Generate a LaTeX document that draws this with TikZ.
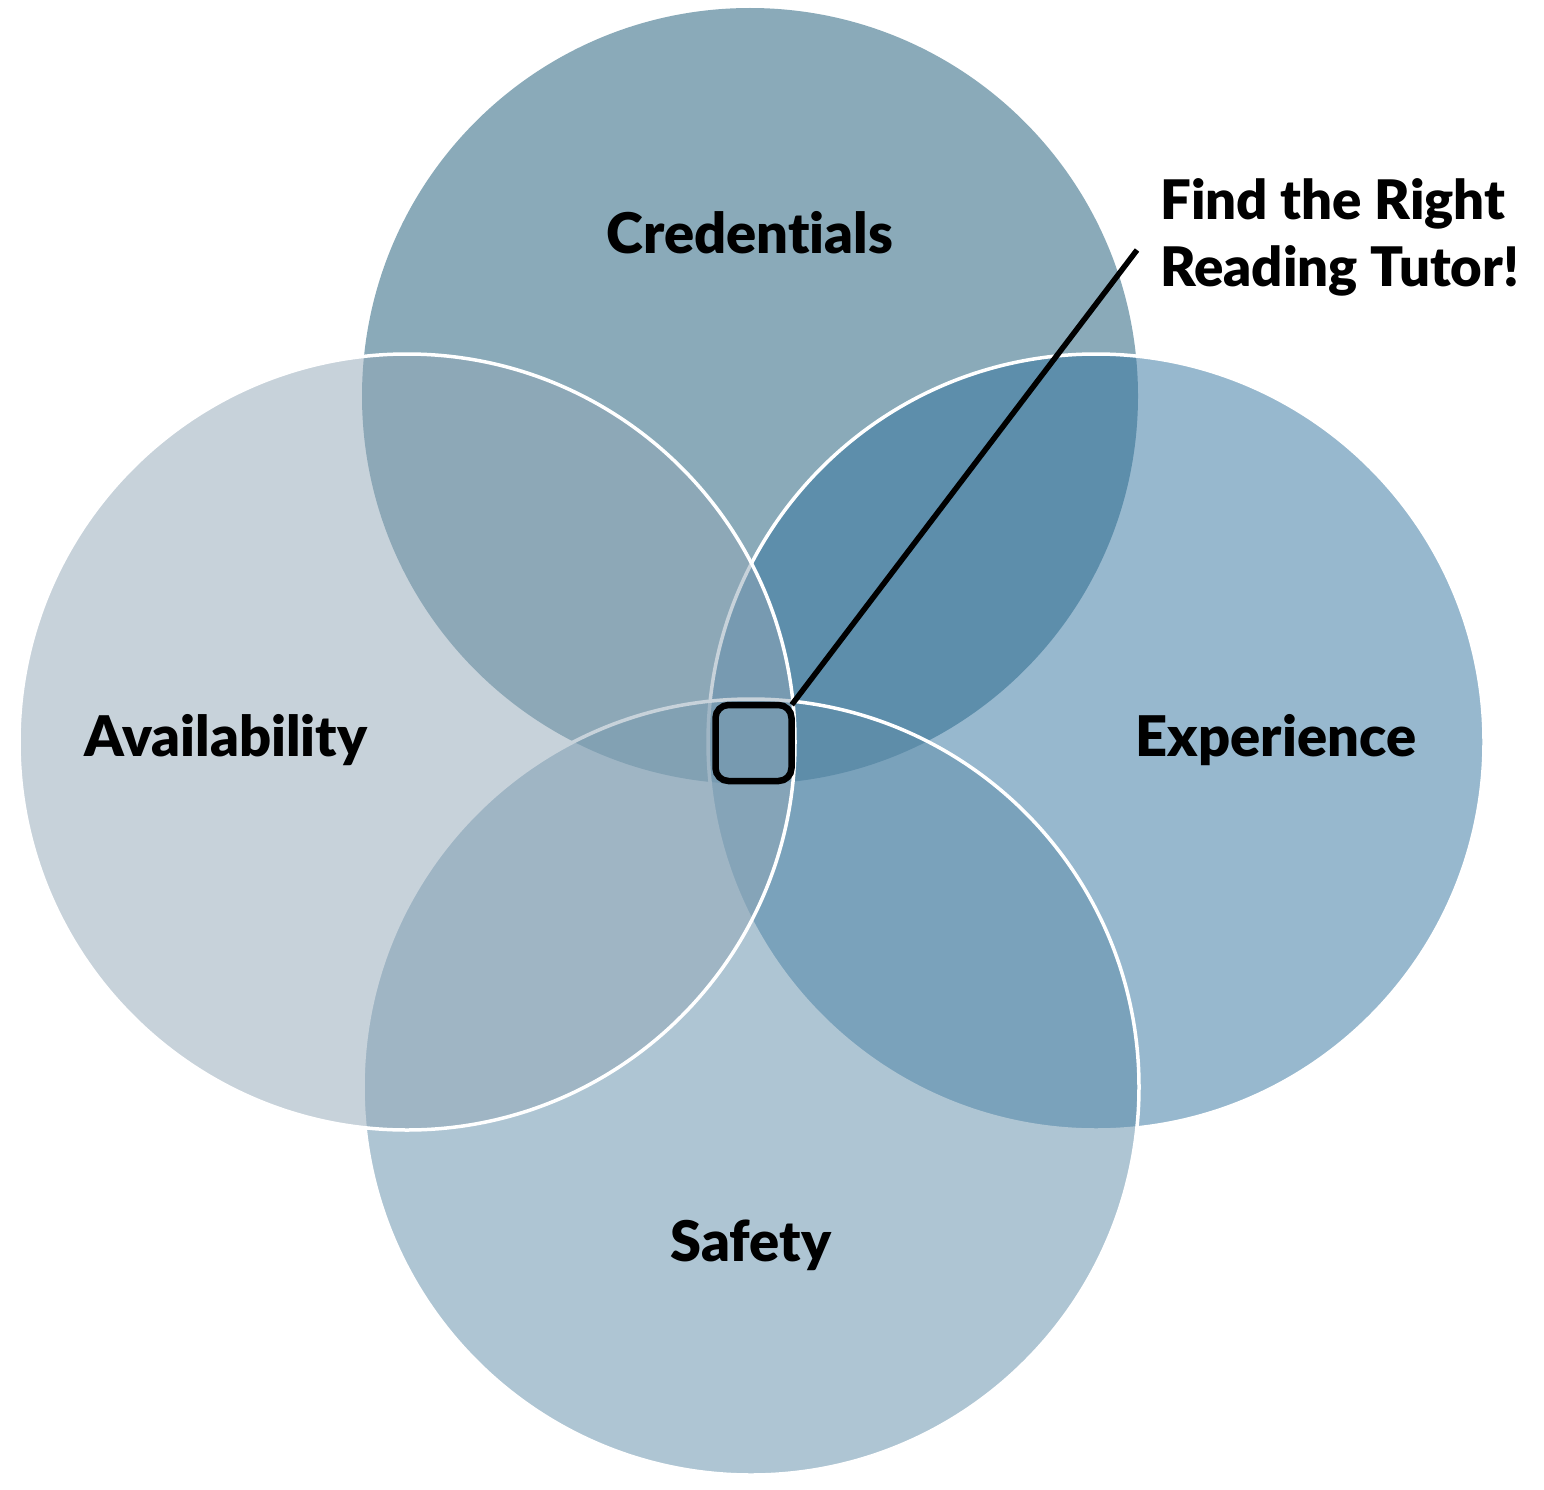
\documentclass[tikz,border=0pt]{standalone}
\usepackage{fontspec}
\setmainfont{Lato}[BoldFont={Lato Black}, Ligatures=NoCommon]
\begin{document}
\begin{tikzpicture}[x=1pt,y=-1pt,
  lbl/.style={font=\fontsize{56}{64}\selectfont\bfseries, text=black, inner sep=0pt},
  ring/.style={draw=white, line width=3.5pt, fill opacity=0.5, draw opacity=1}]
\definecolor{cTop}{RGB}{138,170,185}
\definecolor{cRight}{RGB}{49,115,159}
\definecolor{cBottom}{RGB}{95,141,169}
\definecolor{cLeft}{RGB}{145,167,183}
\useasboundingbox (0,0) rectangle (1544,1490);
\fill[white] (0,0) rectangle (1544,1490);
% circles
\fill[cTop] (750,396) circle[radius=388];
\filldraw[ring, fill=cRight] (1096,742) circle[radius=388];
\filldraw[ring, fill=cBottom] (751,1087) circle[radius=388];
\filldraw[ring, fill=cLeft] (407,742) circle[radius=388];
% labels
\node[lbl] (cred) at (750,233) {Credentials};
\node[lbl] (avail) at (226,740) {Availability};
\node[lbl] (exper) at (1276,740) {Experience};
\node[lbl] (safe) at (751,1245) {Safety};
\node[lbl, anchor=north west, align=left, font=\fontsize{54.5}{67}\selectfont\bfseries] (find) at (1160,178) {Find the Right\\Reading Tutor!};
% callout
\node[draw=black, line width=6.5pt, rounded corners=13pt, minimum width=76pt, minimum height=76pt, inner sep=0pt] (box) at (753.5,743) {};
\coordinate (tip) at (1137,250);
\draw[line width=5.5pt] (box.north east) ++(-3,3) -- (tip);
\end{tikzpicture}
\end{document}
